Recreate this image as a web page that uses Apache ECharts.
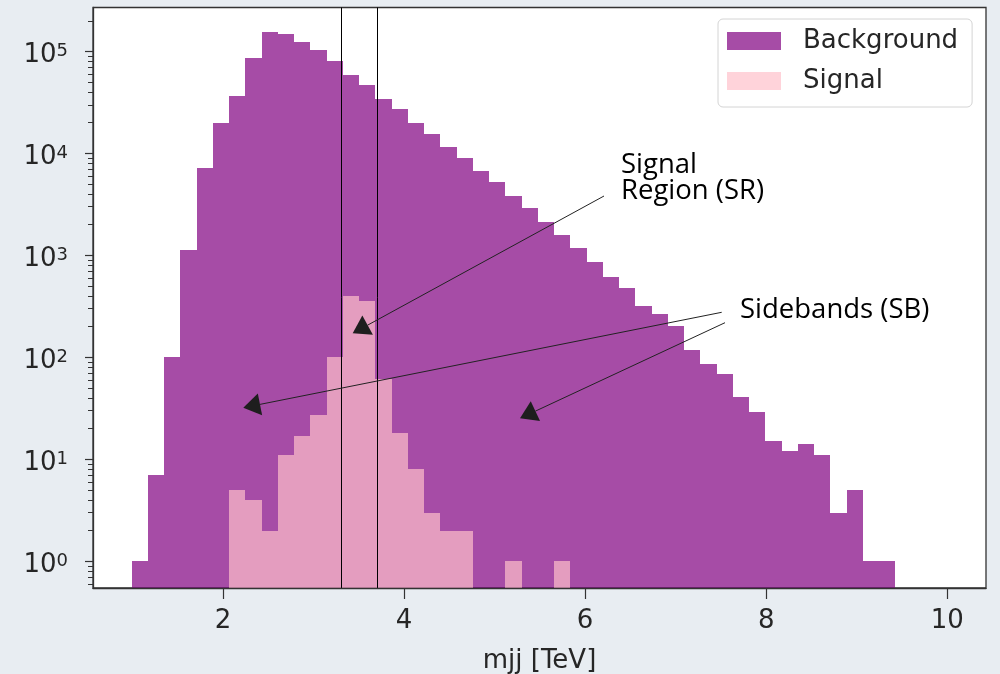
<!DOCTYPE html>
<html><head><meta charset="utf-8">
<style>html,body{margin:0;padding:0;background:#e8edf2;} #chart{width:1000px;height:674px;}</style>
<script src="https://cdn.jsdelivr.net/npm/echarts@6/dist/echarts.min.js"></script>
</head><body><div id="chart"></div>
<script>
// Histogram binning (TeV)
const BIN_START = 0.99;
const BIN_WIDTH = 0.1795;
// Counts per bin
const backgroundCounts = [1,7,100,1130,7160,20000,36600,85700,156000,148500,123000,102800,80700,59300,46600,34500,27500,20000,15600,11660,9100,6780,5290,3860,2920,2130,1600,1180,863,611,480,315,263,204,117,86,68,41,29,15,12,14,11,3,5,1,1];
const signalCounts = [0,0,0,0,0,0,5,4,2,11,17,27,100,401,356,61,18,8,3,2,2,0,0,1,0,0,1,0,0,0,0,0,0,0,0,0,0,0,0,0,0,0,0,0,0,0,0];
// Signal-region boundaries (TeV)
const srBounds = [3.3, 3.7];
// Axis ranges and ticks
const X_MIN = 0.564, X_MAX = 10.428;
const Y_MIN = 0.546, Y_MAX = 269800;
const xTicks = [2, 4, 6, 8, 10];
const yMajorTicks = [1, 10, 100, 1000, 10000, 100000];
const yMinorTicks = [];
[-1,0,1,2,3,4,5].forEach(function(e){ for (let k=2;k<=9;k++){ const v = k*Math.pow(10,e); if (v>=Y_MIN && v<=Y_MAX) yMinorTicks.push(v);} });

const BG_COLOR = 'rgba(128,0,128,0.7)';
const SIG_COLOR = 'rgba(255,192,203,0.7)';
const FONT = '"DejaVu Sans", sans-serif';
const TXT = '#262626';

function histData(counts){
  const out = [];
  counts.forEach(function(c,i){ if (c>0) out.push([BIN_START+i*BIN_WIDTH, BIN_START+(i+1)*BIN_WIDTH, c]); });
  return out;
}
function histRender(params, api){
  const p0 = api.coord([api.value(0), api.value(2)]);
  const p1 = api.coord([api.value(1), api.value(2)]);
  const base = params.coordSys.y + params.coordSys.height;
  const x0 = Math.round(p0[0]), x1 = Math.round(p1[0]), y = Math.round(p0[1]);
  return {type:'rect', shape:{x:x0, y:y, width:x1-x0, height:base-y}, style:{fill: api.visual('color')}};
}

const chart = echarts.init(document.getElementById('chart'));

function arrow(tail, tip, len, width){
  const dx = tip[0]-tail[0], dy = tip[1]-tail[1], L = Math.hypot(dx,dy);
  const ux = dx/L, uy = dy/L, bx = tip[0]-ux*len, by = tip[1]-uy*len;
  const px = -uy*width/2, py = ux*width/2;
  return [
    {type:'line', z:100, shape:{x1:tail[0], y1:tail[1], x2:bx, y2:by}, style:{stroke:'#222', lineWidth:1}},
    {type:'polygon', z:100, shape:{points:[[tip[0],tip[1]],[bx+px,by+py],[bx-px,by-py]]}, style:{fill:'#1e1e1e'}}
  ];
}
const graphics = [].concat(
  arrow([604,196],[352.7,333.3],17,22),
  arrow([721.7,312.3],[243.3,407.7],17,22),
  arrow([725,322.7],[520,418.3],17,22),
  [
    {type:'text', z:100, left:621, top:151.2, style:{text:'Signal\nRegion (SR)', font:'27.5px "Open Sans"', fill:'#000', lineHeight:25.5}},
    {type:'text', z:100, left:740, top:296.2, style:{text:'Sidebands (SB)', font:'27.5px "Open Sans"', fill:'#000', lineHeight:25.5}}
  ]
);

chart.setOption({
  backgroundColor: '#e8edf2',
  animation: false,
  grid: {left:93, right:14, top:7.5, bottom:86, show:true, backgroundColor:'#ffffff', borderColor:'#333', borderWidth:1.3, containLabel:false, outerBoundsMode:'none'},
  legend: {
    orient:'vertical', left:718, top:19, padding:[9,14,13,9], itemGap:14,
    itemWidth:54, itemHeight:18, icon:'rect',
    backgroundColor:'rgba(255,255,255,0.85)', borderColor:'#d4d4d4', borderWidth:1, borderRadius:5,
    textStyle:{fontFamily:FONT, fontSize:26, color:TXT, lineHeight:26, padding:[0,0,0,17]},
    data:['Background','Signal']
  },
  xAxis: {
    type:'value', min:X_MIN, max:X_MAX, z:10,
    name:'mjj [TeV]', nameLocation:'middle', nameGap:60,
    nameTextStyle:{fontFamily:FONT, fontSize:26, color:TXT},
    axisLine:{show:true, lineStyle:{color:'#333', width:1.3}},
    axisTick:{show:true, customValues:xTicks, length:11, lineStyle:{color:'#333', width:1.2}},
    axisLabel:{customValues:xTicks, margin:20, fontFamily:FONT, fontSize:26, color:TXT},
    splitLine:{show:false}
  },
  yAxis: [{
    type:'log', logBase:10, min:Y_MIN, max:Y_MAX, z:10,
    axisLine:{show:true, lineStyle:{color:'#333', width:1.3}},
    axisTick:{show:true, customValues:yMajorTicks, length:8, lineStyle:{color:'#333', width:1.2}},
    axisLabel:{customValues:yMajorTicks, margin:25, padding:[8,0,0,0],
      formatter:function(v){ const n = Math.round(Math.log10(v)); return '{b|10}{s|' + n + '}'; },
      rich:{ b:{fontFamily:FONT, fontSize:26, color:TXT, lineHeight:26}, s:{fontFamily:FONT, fontSize:18, color:TXT, lineHeight:16, verticalAlign:'top'} }
    },
    splitLine:{show:false}
  },{
    type:'log', logBase:10, min:Y_MIN, max:Y_MAX, position:'left', z:10,
    axisLine:{show:false},
    axisTick:{show:true, customValues:yMinorTicks, length:5, lineStyle:{color:'#333', width:1}},
    axisLabel:{show:false},
    splitLine:{show:false}
  }],
  series: [
    {name:'Background', type:'custom', renderItem:histRender, itemStyle:{color:BG_COLOR},
     encode:{x:[0,1], y:2}, data:histData(backgroundCounts), z:2},
    {name:'Signal', type:'custom', renderItem:histRender, itemStyle:{color:SIG_COLOR},
     encode:{x:[0,1], y:2}, data:histData(signalCounts), z:3},
    {name:'SR', type:'custom', z:4, silent:true,
     renderItem:function(params, api){
       const x = Math.round(api.coord([api.value(0), 1])[0]) + 0.5;
       const cs = params.coordSys;
       return {type:'line', shape:{x1:x, y1:cs.y, x2:x, y2:cs.y+cs.height}, style:{stroke:'#000', lineWidth:1}};
     },
     encode:{x:0}, data:srBounds.map(function(v){return [v];})}
  ],
  graphic: graphics
});
</script></body></html>
